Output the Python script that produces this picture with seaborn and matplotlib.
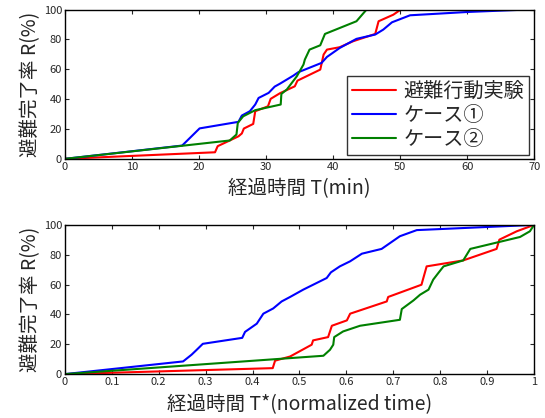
import pandas as pd
import matplotlib
matplotlib.use('Agg')
import matplotlib.pyplot as plt
import seaborn as sns

# series names
names = ['避難行動実験', 'ケース①', 'ケース②']

# top panel: elapsed time T (min)
red_t = [0, 22.4, 22.8, 24.6, 25.9, 26.4, 26.7, 28.1, 28.4, 30.3, 30.7, 32.1, 34.3, 34.7,
         38.1, 38.6, 39.1, 41.0, 43.0, 46.3, 46.6, 46.8, 49.0, 50.1]
red_r = [0, 4.4, 8.5, 12.3, 15.1, 17.0, 20.3, 23.4, 31.9, 35.2, 40.2, 44.0, 48.6, 52.4,
         59.8, 69.9, 73.2, 74.8, 78.8, 83.7, 88.8, 92.2, 96.6, 100]
blue_t = [0, 17.5, 20.1, 25.9, 26.4, 27.6, 28.4, 28.9, 30.4, 31.3, 32.1, 34.1, 34.8,
          38.3, 39.1, 41.0, 43.5, 46.3, 47.5, 48.8, 51.5, 60.0, 68.7]
blue_r = [0, 8.9, 20.4, 24.8, 29.0, 31.9, 36.4, 40.8, 44.2, 48.4, 50.4, 55.8, 58.0,
          64.3, 68.3, 74.3, 80.4, 83.3, 86.6, 91.5, 96.2, 98.4, 100]
green_t = [0, 24.6, 25.6, 25.8, 26.6, 28.4, 32.2, 32.3, 33.1, 34.6, 35.6, 35.8, 36.5,
           38.1, 38.8, 43.5, 45.0]
green_r = [0, 12.3, 16.3, 24.1, 28.5, 32.6, 36.4, 43.5, 46.4, 55.3, 63.2, 66.5, 73.2,
           76.1, 83.7, 92.2, 100]

# bottom panel: normalized time T*
red_n = [0, 0.443, 0.448, 0.48, 0.526, 0.529, 0.561, 0.569, 0.601, 0.608, 0.686, 0.689,
         0.76, 0.764, 0.771, 0.849, 0.92, 0.926, 0.963, 1.0]
red_nr = [0, 4, 9, 11.8, 19.7, 22.6, 24.8, 32.4, 36, 40.5, 48.7, 51.7,
          59.9, 64.4, 72.2, 76.2, 83.9, 90.1, 95.7, 100]
blue_n = [0, 0.252, 0.27, 0.28, 0.294, 0.378, 0.384, 0.409, 0.423, 0.444, 0.462, 0.48,
          0.508, 0.558, 0.567, 0.586, 0.608, 0.633, 0.675, 0.714, 0.75, 1.0]
blue_nr = [0, 8.5, 13, 16, 20.3, 24.3, 28.3, 33.8, 40.5, 44, 48.7, 51.7,
           56.6, 64.4, 68.2, 72.2, 75.6, 80.7, 83.9, 92.4, 96.5, 100]
green_n = [0, 0.551, 0.565, 0.572, 0.574, 0.593, 0.629, 0.714, 0.718, 0.743, 0.757, 0.775,
           0.785, 0.796, 0.807, 0.849, 0.864, 0.97, 0.991, 1.0]
green_nr = [0, 12.3, 16.3, 19.7, 24.8, 28.6, 32.4, 36.4, 43.6, 49.4, 53.2, 56.6,
            63.3, 67.8, 72.2, 76.2, 83.9, 91.9, 95.7, 100]

x_ticks_top = [0, 10, 20, 30, 40, 50, 60, 70]
x_ticks_bot = [0, 0.1, 0.2, 0.3, 0.4, 0.5, 0.6, 0.7, 0.8, 0.9, 1]
x_ticklabels_bot = ['0', '0.1', '0.2', '0.3', '0.4', '0.5', '0.6', '0.7', '0.8', '0.9', '1']
y_ticks = [0, 20, 40, 60, 80, 100]


def long_df(xs, ys):
    rows = []
    for name, x, y in zip(names, xs, ys):
        for i, (a, b) in enumerate(zip(x, y)):
            rows.append({'series': name, 'x': a, 'y': b, 'order': i})
    return pd.DataFrame(rows)


top = long_df([red_t, blue_t, green_t], [red_r, blue_r, green_r])
bot = long_df([red_n, blue_n, green_n], [red_nr, blue_nr, green_nr])

sns.set_style('ticks')
plt.rcParams['font.family'] = ['Noto Sans CJK JP', 'DejaVu Sans']
palette = {'避難行動実験': '#ff0000', 'ケース①': '#0000ff', 'ケース②': '#008000'}

fig = plt.figure(figsize=(5.45, 4.18), dpi=100)
ax1 = fig.add_axes([0.119, 0.620, 0.861, 0.357])
ax2 = fig.add_axes([0.119, 0.105, 0.861, 0.357])

sns.lineplot(data=top, x='x', y='y', hue='series', palette=palette, sort=False,
             estimator=None, units='series', linewidth=1.5, ax=ax1)
sns.lineplot(data=bot, x='x', y='y', hue='series', palette=palette, sort=False,
             estimator=None, units='series', linewidth=1.5, ax=ax2, legend=False)

for ax in (ax1, ax2):
    ax.set_ylim(0, 100)
    ax.set_yticks(y_ticks)
    ax.tick_params(direction='in', top=True, right=True, labelsize=8, length=3,
                   width=0.8, pad=2)
    for s in ax.spines.values():
        s.set_linewidth(1.0)
        s.set_color('black')
    ax.set_ylabel('避難完了率 R(%)', fontsize=14, labelpad=2)

ax1.set_xlim(0, 70)
ax1.set_xticks(x_ticks_top)
ax1.set_xlabel('経過時間 T(min)', fontsize=14, labelpad=5)

ax2.set_xlim(0, 1)
ax2.set_xticks(x_ticks_bot)
ax2.set_xticklabels(x_ticklabels_bot)
ax2.set_xlabel('経過時間 T*(normalized time)', fontsize=14, labelpad=5)

leg = ax1.legend(loc='lower right', fontsize=14.5, frameon=True, fancybox=False,
                 handlelength=2.2, handletextpad=0.35, borderpad=0.25, labelspacing=0.15,
                 borderaxespad=0, bbox_to_anchor=(0.989, 0.025))
leg.get_frame().set_edgecolor('black')
leg.get_frame().set_linewidth(1.0)
leg.set_title(None)

fig.savefig('out.png', dpi=100)
